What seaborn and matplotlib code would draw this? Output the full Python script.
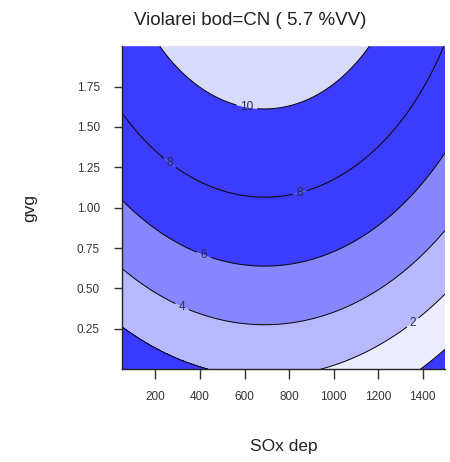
import numpy as np
import matplotlib
matplotlib.use("Agg")
import matplotlib.pyplot as plt
import seaborn as sns

# response surface: z = b0 + b1*y + b2*y^2 - kx*(x - x0)^2
b0, b1, b2 = 2.30, 6.47, -1.05
kx, x0 = 4.7e-6, 690.0
x_range = [50, 1500]
y_range = [0.0, 2.0]

levels = [-10, 0, 2, 4, 6, 8, 10, 20]
band_colors = ["#3a3aff", "#ececfe", "#b8b8fe", "#8686fe", "#3c3cff", "#3c3cff", "#d9d9fa"]
label_levels = [2, 4, 6, 8, 10]

label_pos = [(612, 1.64), (267, 1.28), (849, 1.09), (415, 0.70), (321, 0.39), (1354, 0.29)]
x_ticks = [200, 400, 600, 800, 1000, 1200, 1400]
y_ticks = [0.25, 0.50, 0.75, 1.00, 1.25, 1.50, 1.75]

sns.set_theme(style="ticks")
plt.rcParams['font.family'] = ['Liberation Sans', 'DejaVu Sans']

xs = np.linspace(x_range[0], x_range[1], 300)
ys = np.linspace(y_range[0], y_range[1], 300)
X, Y = np.meshgrid(xs, ys)
Z = b0 + b1 * Y + b2 * Y**2 - kx * (X - x0)**2

fig = plt.figure(figsize=(4.5, 4.62), dpi=100)
ax = fig.add_axes([0.271, 0.201, 0.718, 0.699])

ax.contourf(X, Y, Z, levels=levels, colors=band_colors, antialiased=True)
# lower-left corner is drawn in the same strong blue as in the original
Zleft = np.where(X < x0, Z, np.nan)
ax.contourf(X, Y, Zleft, levels=[-10, 2], colors=["#3a3aff"])

ax.contour(X, Y, Z, levels=[0], colors="black", linewidths=0.7)
cs = ax.contour(X, Y, Z, levels=label_levels, colors="black", linewidths=0.7)
texts = ax.clabel(cs, fmt="%d", fontsize=8.5, colors="#2a2a55",
                  manual=label_pos, inline=True, inline_spacing=4)
for t in texts:
    t.set_rotation(0)

ax.set_xlim(x_range)
ax.set_ylim(y_range)
ax.set_xticks(x_ticks)
ax.set_yticks(y_ticks)
ax.set_yticklabels(["%.2f" % v for v in y_ticks])
ax.tick_params(axis="both", direction="out", labelsize=8.5, colors="#333333", width=1)
ax.tick_params(axis="x", length=7, pad=9)
ax.tick_params(axis="y", length=6, pad=10)
sns.despine(ax=ax)
for s in ["left", "bottom"]:
    ax.spines[s].set_color("#222222")
    ax.spines[s].set_linewidth(1)

ax.set_xlabel("SOx dep", fontsize=12.5, labelpad=26, color="#222222")
ax.set_ylabel("gvg", fontsize=12.5, labelpad=28, color="#222222")
fig.text(0.555, 0.955, "Violarei bod=CN ( 5.7 %VV)", ha="center", va="center",
         fontsize=13.5, color="#222222")

fig.savefig("out.png", dpi=100)
